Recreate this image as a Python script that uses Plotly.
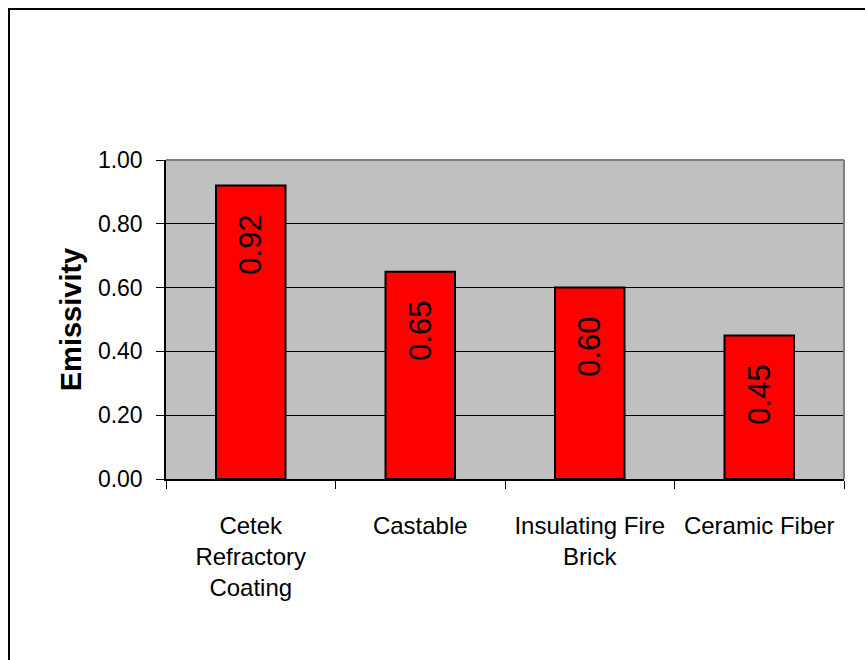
import plotly.graph_objects as go

categories = ["Cetek<br>Refractory<br>Coating", "Castable", "Insulating Fire<br>Brick", "Ceramic Fiber"]
emissivity = [0.92, 0.65, 0.60, 0.45]
bar_labels = [f"{v:.2f}" + "\u00a0\u00a0\u00a0" for v in emissivity]

W, H = 865, 660
ML, MR, MT, MB = 166, 21, 160, 181
PW, PH = W - ML - MR, H - MT - MB

def px_x(p):
    return (p - ML) / PW

def px_y(p):
    return (H - MB - p) / PH

FONT = "Arial, Liberation Sans, sans-serif"

fig = go.Figure(go.Bar(
    x=categories, y=emissivity,
    marker=dict(color="#FF0000", line=dict(color="#000000", width=2)),
    text=bar_labels, textposition="inside", insidetextanchor="end",
    textangle=-90, textfont=dict(family=FONT, size=31, color="#000000"),
    constraintext="none", cliponaxis=False,
))

fig.update_layout(
    width=W, height=H,
    margin=dict(l=ML, r=MR, t=MT, b=MB, autoexpand=False),
    paper_bgcolor="#FFFFFF", plot_bgcolor="#C0C0C0",
    bargap=0.59, showlegend=False,
    font=dict(family=FONT, color="#000000"),
)

fig.update_xaxes(
    showline=True, linecolor="#000000", linewidth=1.5,
    ticks="outside", tickson="boundaries", ticklen=8, tickcolor="#000000", tickwidth=1,
    tickfont=dict(family=FONT, size=24, color="#000000"),
    ticklabelstandoff=24, showgrid=False, automargin=False,
)
fig.update_yaxes(
    range=[0, 1], dtick=0.2, tick0=0, tickformat=".2f",
    showline=True, linecolor="#000000", linewidth=1.5,
    ticks="outside", ticklen=8, tickcolor="#000000", tickwidth=1,
    tickfont=dict(family=FONT, size=23, color="#000000"),
    ticklabelstandoff=9,
    showgrid=True, gridcolor="#000000", gridwidth=1, zeroline=False,
    title=dict(text="<b>Emissivity</b>", font=dict(family=FONT, size=29, color="#000000"), standoff=8),
    automargin=False,
)

# plot area border (top and right, gray)
fig.add_shape(type="line", xref="x domain", yref="y domain", x0=0, x1=1, y0=1, y1=1,
              line=dict(color="#808080", width=2), layer="above")
fig.add_shape(type="line", xref="x domain", yref="y domain", x0=1, x1=1, y0=0, y1=1,
              line=dict(color="#808080", width=2), layer="above")
# outer chart frame
fig.add_shape(type="rect", xref="paper", yref="paper",
              x0=px_x(9), x1=px_x(875), y0=px_y(680), y1=px_y(9),
              line=dict(color="#000000", width=2), fillcolor="rgba(0,0,0,0)")

fig.write_html("out.html")
